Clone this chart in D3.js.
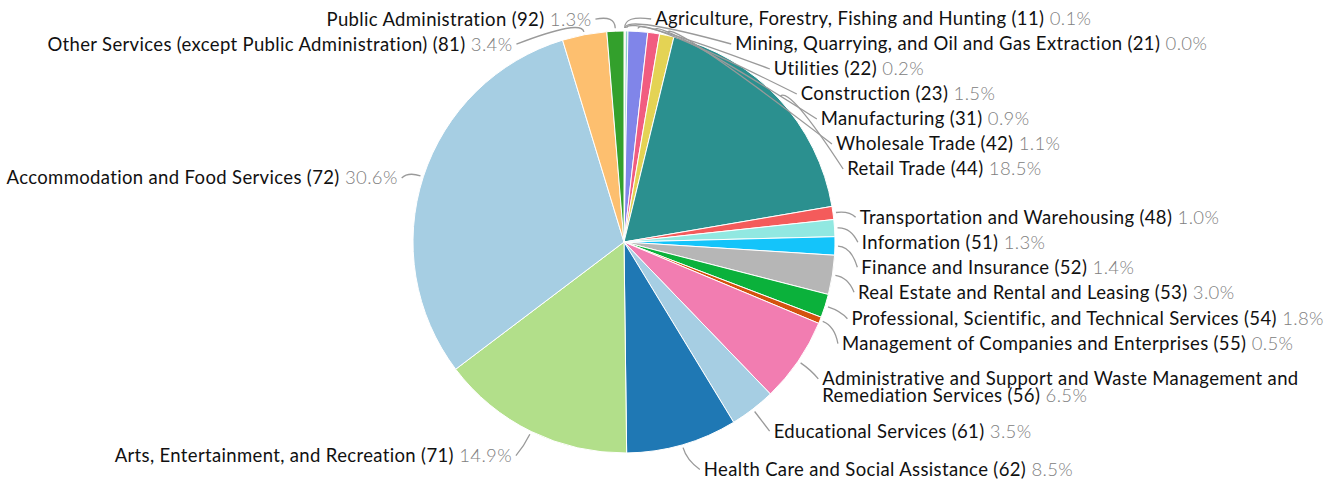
<!DOCTYPE html>
<html>
<head>
<meta charset="utf-8">
<script src="https://cdn.jsdelivr.net/npm/d3@7"></script>
<style>
  html, body { margin: 0; padding: 0; background: #ffffff; }
  svg { display: block; }
  text { font-family: Lato, "Open Sans", "Noto Sans", sans-serif; letter-spacing: 0.35px; }
</style>
</head>
<body>
<svg id="chart" width="1341" height="481"></svg>
<script>
// ---------------- data ----------------
const categories = [
  "Agriculture, Forestry, Fishing and Hunting",
  "Mining, Quarrying, and Oil and Gas Extraction",
  "Utilities",
  "Construction",
  "Manufacturing",
  "Wholesale Trade",
  "Retail Trade",
  "Transportation and Warehousing",
  "Information",
  "Finance and Insurance",
  "Real Estate and Rental and Leasing",
  "Professional, Scientific, and Technical Services",
  "Management of Companies and Enterprises",
  "Administrative and Support and Waste Management and Remediation Services",
  "Educational Services",
  "Health Care and Social Assistance",
  "Arts, Entertainment, and Recreation",
  "Accommodation and Food Services",
  "Other Services (except Public Administration)",
  "Public Administration"
];
const naicsCodes = [11, 21, 22, 23, 31, 42, 44, 48, 51, 52, 53, 54, 55, 56, 61, 62, 71, 72, 81, 92];
const sharePercent = [0.1, 0.0, 0.2, 1.5, 0.9, 1.1, 18.5, 1.0, 1.3, 1.4, 3.0, 1.8, 0.5, 6.5, 3.5, 8.5, 14.9, 30.6, 3.4, 1.3];
const sliceColors = [
  "#f7c99a", "#c9a2e0", "#8fd3c8", "#8085e9", "#f15c80", "#e4d354",
  "#2b908f", "#f45b5b", "#91e8e1", "#14c4fa", "#b6b6b6", "#0bb13b",
  "#d4520e", "#f27db1", "#a6cee3", "#1f78b4", "#b2df8a", "#a6cee3",
  "#fdbf6f", "#33a02c"
];

// ---------------- layout constants ----------------
const W = 1341, H = 481;
const cx = 624, cy = 242, R = 211;
const FONT_SIZE = 18.5, ROW = 25, LINE_H = 16.8;
const TOP_LIMIT = 5.5, BOTTOM_LIMIT = 482;
const WRAP_WIDTH = 520;

const svg = d3.select("#chart");
const data = categories.map((name, i) => ({
  name, code: naicsCodes[i], share: sharePercent[i], color: sliceColors[i]
}));

const pie = d3.pie().sort(null).value(d => d.share);
const arcs = pie(data);
const arcGen = d3.arc().innerRadius(0).outerRadius(R);

const gPie = svg.append("g").attr("transform", `translate(${cx},${cy})`);
gPie.selectAll("path.slice")
  .data(arcs.filter(d => d.endAngle - d.startAngle > 0))
  .join("path")
  .attr("class", "slice")
  .attr("d", arcGen)
  .attr("fill", d => d.data.color)
  .attr("stroke", "#ffffff")
  .attr("stroke-width", 1);

// ---------------- text measuring & wrapping ----------------
const measurer = svg.append("text")
  .attr("font-size", FONT_SIZE).attr("x", -9999).attr("y", -9999);
function measure(str) {
  measurer.text(str);
  return measurer.node().getComputedTextLength();
}
function wrapLabel(str) {
  if (measure(str) <= WRAP_WIDTH) return [str];
  const words = str.split(" ");
  const lines = [];
  let cur = "";
  words.forEach(w => {
    const test = cur ? cur + " " + w : w;
    if (measure(test) > WRAP_WIDTH * 0.97 && cur) { lines.push(cur); cur = w; }
    else cur = test;
  });
  if (cur) lines.push(cur);
  return lines;
}

// ---------------- label layout ----------------
const labels = arcs.map(a => {
  const mid = (a.startAngle + a.endAngle) / 2;
  const side = mid < Math.PI ? 1 : -1;
  const lines = wrapLabel(`${a.data.name} (${a.data.code})`);
  return {
    arc: a, mid, side, lines,
    pct: d3.format(".1f")(a.data.share) + "%",
    h: ROW + (lines.length - 1) * LINE_H,
    natural: cy - (R + 19) * Math.cos(mid) + 7
  };
});

// top-down push, then bottom-up correction if the stack leaves the area
function layoutSide(list) {
  let prevBottom = TOP_LIMIT;
  list.forEach(l => {
    l.top = Math.max(l.natural - ROW / 2, prevBottom);
    prevBottom = l.top + l.h;
  });
  let nextTop = BOTTOM_LIMIT;
  for (let i = list.length - 1; i >= 0; i--) {
    const l = list[i];
    l.top = Math.min(l.top, nextTop - l.h);
    nextTop = l.top;
  }
  list.forEach(l => { l.y = l.top + ROW / 2; });
}
const rightLabels = labels.filter(l => l.side > 0).sort((a, b) => a.mid - b.mid);
const leftLabels = labels.filter(l => l.side < 0).sort((a, b) => b.mid - a.mid);
layoutSide(rightLabels);
layoutSide(leftLabels);

const ellRx = R + 27, ellRy = R + 22, ellCy = cy + 8;
labels.forEach(l => {
  const t = Math.max(0, 1 - Math.pow((l.y - ellCy) / ellRy, 2));
  l.x = cx + l.side * ellRx * Math.sqrt(t);
});

measurer.remove();

// ---------------- leader lines ----------------
const gLines = svg.append("g");
labels.forEach(l => {
  const p = r => [cx + r * Math.sin(l.mid), cy - r * Math.cos(l.mid)];
  const p0 = p(R + 3), p1 = p(R + 16);
  const p2 = [l.x - l.side * 4, l.y];
  gLines.append("path")
    .attr("d", `M${p0[0]},${p0[1]}Q${p1[0]},${p1[1]} ${p2[0]},${p2[1]}`)
    .attr("fill", "none")
    .attr("stroke", "#9a9a9a")
    .attr("stroke-width", 1.3);
});

// ---------------- label texts ----------------
const gText = svg.append("g");
labels.forEach(l => {
  const text = gText.append("text")
    .attr("font-size", FONT_SIZE)
    .attr("text-anchor", l.side > 0 ? "start" : "end");
  l.lines.forEach((line, i) => {
    const ts = text.append("tspan")
      .attr("x", l.x)
      .attr("y", l.y + i * LINE_H)
      .attr("dy", "0.35em");
    ts.append("tspan").attr("fill", "#111111").text(line);
    if (i === l.lines.length - 1) {
      ts.append("tspan").attr("fill", "#808080").attr("font-weight", 300).text(" " + l.pct);
    }
  });
});
</script>
</body>
</html>
